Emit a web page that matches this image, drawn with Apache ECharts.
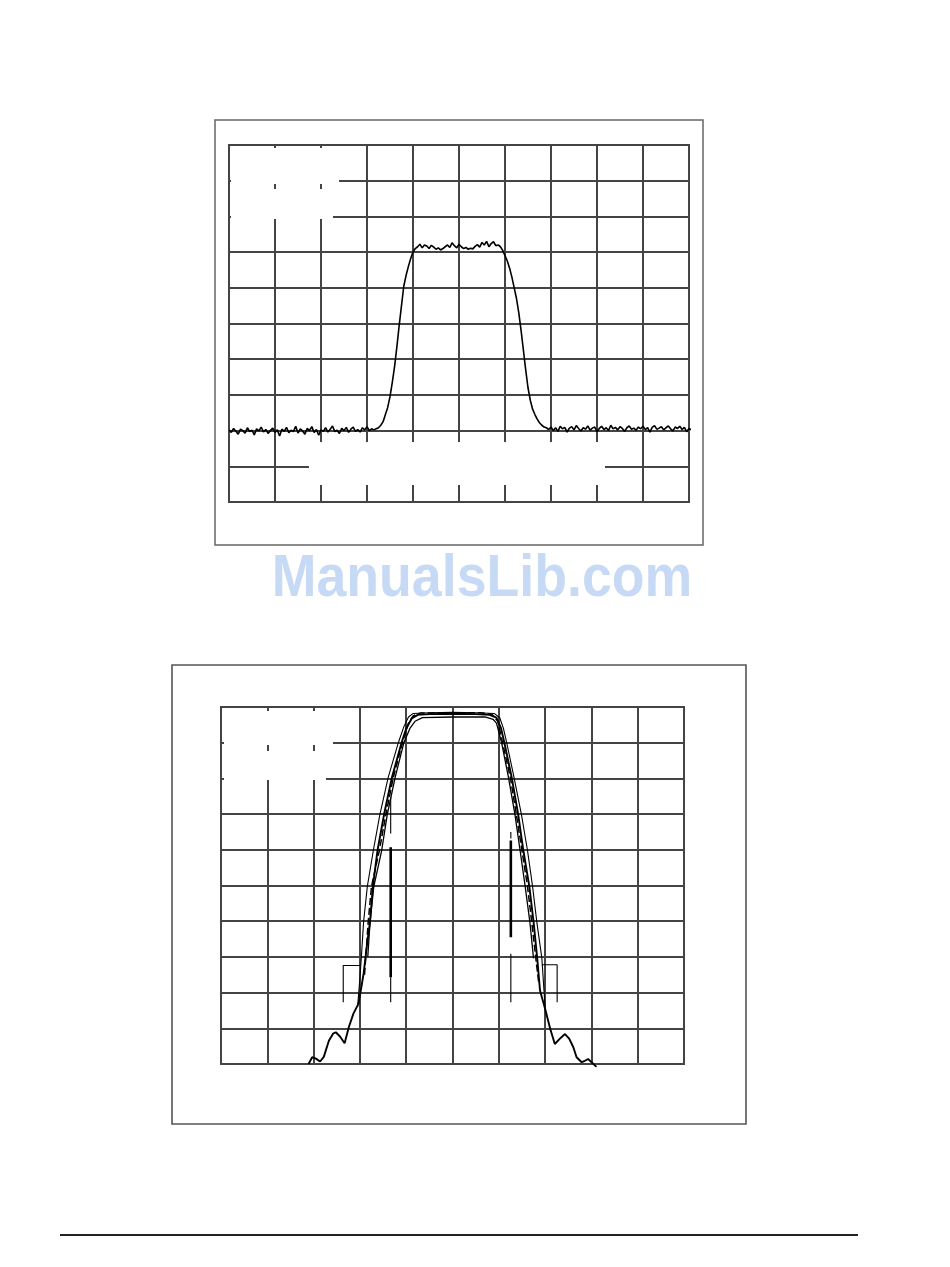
<!DOCTYPE html>
<html>
<head>
<meta charset="utf-8">
<script src="https://cdn.jsdelivr.net/npm/echarts@6/dist/echarts.min.js"></script>
<style>
html,body{margin:0;padding:0;background:#fff;}
#c{width:950px;height:1267px;}
</style>
</head>
<body>
<div id="c"></div>
<script>
// ---------- DATA (screen divisions: 10 x 10) ----------
// Top chart: single swept trace, sampled every 0.05 division from x = 0
const topStep = 0.05;
const topFloorLeft = [2.02,1.95,2.06,1.98,1.9,2.04,2.0,1.93,2.08,1.97,
  2.01,1.88,2.05,1.99,2.1,1.96,2.03,1.92,2.0,2.07,
  1.95,2.02,1.85,2.04,1.98,2.09,1.94,2.01,1.97,2.12,
  1.93,2.05,1.99,1.9,2.06,2.0,2.11,1.95,2.03,1.87,
  2.02,1.98,2.08,1.96,2.04,2.13,1.97,2.01,1.92,2.06,
  2.0,2.09,1.95,2.04,2.1,1.98,2.03,1.96,2.08,2.02,
  2.11,2.0,2.05,2.02];
const topRise = [2.05,2.08,2.15,2.25,2.45,2.65,2.95,3.35,3.8,4.35,4.95,5.5,6.05,6.35,6.6,6.82,7.0,7.1,7.15];
const topPlateau = [7.22,7.12,7.2,7.17,7.1,7.19,7.14,7.08,7.12,7.06,
  7.1,7.15,7.2,7.13,7.26,7.18,7.12,7.22,7.15,7.1,
  7.13,7.08,7.11,7.09,7.16,7.21,7.14,7.27,7.2,7.3,
  7.15,7.24,7.29,7.18,7.2];
const topFall = [7.15,7.05,6.9,6.75,6.55,6.3,6.0,5.7,5.3,4.8,4.25,3.7,3.2,2.85,2.6,2.45,2.32,2.22,2.15,2.1,2.08];
const topFloorRight = [2.03,2.1,2.0,2.08,1.98,2.12,2.05,2.09,1.96,2.07,
  2.11,2.02,2.14,2.06,1.99,2.08,2.04,2.13,2.01,2.07,
  2.1,1.97,2.06,2.12,2.03,2.08,2.0,2.15,2.05,2.09,
  2.02,2.11,2.06,1.98,2.08,2.13,2.04,2.07,2.01,2.1,
  2.05,2.12,2.03,2.08,1.96,2.09,2.14,2.04,2.07,2.11,
  2.02,2.08,2.13,2.05,1.99,2.1,2.06,2.12,2.03,2.09,
  1.97,2.06,2.02];

// Bottom chart: overlaid filter responses [x div, y div]
const sidelobeTrace = [[1.89,0.0],[1.97,0.19],[2.05,0.15],[2.14,0.07],[2.22,0.2],[2.33,0.65],[2.42,0.85],[2.48,0.89],
  [2.57,0.77],[2.67,0.58],[2.76,1.03],[2.86,1.41],[2.97,1.69],[3.02,2.06],[3.08,2.53],[3.15,3.3],[3.22,4.0],
  [3.28,4.97],[3.38,5.98],[3.52,6.98],[3.69,8.02],[3.9,9.0],[4.0,9.4],[4.12,9.68],[4.25,9.78],[4.5,9.8],
  [5.0,9.81],[5.5,9.8],[5.8,9.78],[5.95,9.7],[6.05,9.4],[6.12,9.0],[6.28,8.02],[6.42,6.98],[6.53,5.98],
  [6.66,4.97],[6.75,3.99],[6.83,2.96],[6.89,2.06],[7.0,1.55],[7.11,0.99],[7.21,0.56],[7.32,0.71],[7.43,0.84],
  [7.52,0.71],[7.61,0.47],[7.68,0.19],[7.79,0.05],[7.86,0.09],[7.93,0.14],[8.01,0.04],[8.11,-0.08]];
const outerTrace = [[2.95,1.6],[3.0,2.4],[3.03,2.96],[3.08,3.99],[3.16,4.97],[3.29,5.98],[3.43,6.98],[3.61,8.02],
  [3.83,9.0],[3.95,9.45],[4.05,9.72],[4.15,9.82],[4.5,9.84],[5.0,9.85],[5.5,9.84],[5.9,9.82],[6.02,9.7],
  [6.1,9.4],[6.17,9.0],[6.33,8.02],[6.49,6.98],[6.62,5.98],[6.73,4.97],[6.82,3.99],[6.93,2.96],[6.98,1.98],[7.0,1.6]];
const dashedTrace = [[3.1,2.5],[3.18,3.99],[3.25,4.97],[3.42,5.98],[3.56,6.98],[3.72,8.02],[3.92,9.0],[4.05,9.55],
  [4.15,9.75],[4.3,9.83],[5.0,9.84],[5.6,9.84],[5.85,9.8],[5.98,9.6],[6.08,9.0],[6.25,8.02],[6.38,6.98],
  [6.5,5.98],[6.62,4.97],[6.71,3.99],[6.8,2.96],[6.86,2.3]];
const innerTrace = [[3.17,3.0],[3.22,3.99],[3.3,4.97],[3.47,5.98],[3.59,6.98],[3.76,8.02],[3.95,9.0],[4.08,9.4],
  [4.19,9.6],[4.35,9.7],[5.0,9.72],[5.7,9.72],[5.88,9.65],[5.95,9.55],[6.06,9.0],[6.21,8.02],[6.35,6.98],
  [6.46,5.98],[6.57,4.97],[6.67,3.99],[6.75,2.96]];
// markers and brackets (null separates segments)
const markersThick = [[3.665,6.07],[3.665,2.43],null,[6.26,6.26],[6.26,3.55]];
const markersThin = [[3.665,7.47],[3.665,6.46],null,[3.665,2.43],[3.665,1.73],null,[6.26,6.5],[6.26,6.32],null,[6.26,3.09],[6.26,1.73],
  null,[2.64,1.73],[2.64,2.76],[3.0,2.76],null,[6.93,2.78],[7.26,2.78],[7.26,1.73]];

// ---------- BUILD ----------
const topLevels = topFloorLeft.concat(topRise, topPlateau, topFall, topFloorRight);
const topTrace = topLevels.map((v, i) => [+(i * topStep).toFixed(2), v]);

const gridLine = {show:true, lineStyle:{color:'#444', width:2}};
function axis(gi) {
  return {type:'value', gridIndex:gi, min:0, max:10, interval:1,
    axisLabel:{show:false}, axisTick:{show:false}, axisLine:{show:false},
    splitLine:gridLine};
}
function lineSeries(data, gi, width, extra) {
  return Object.assign({type:'line', xAxisIndex:gi, yAxisIndex:gi, data:data,
    showSymbol:false, symbol:'none', clip:false, connectNulls:false, animation:false, z:5,
    lineStyle:{color:'#000', width:width}}, extra || {});
}

const chart = echarts.init(document.getElementById('c'), null, {renderer:'canvas'});
chart.setOption({
  backgroundColor:'#fff',
  animation:false,
  grid:[
    {left:229, top:145, width:460, height:357, show:true, borderColor:'#444', borderWidth:2},
    {left:221, top:707, width:463, height:357, show:true, borderColor:'#444', borderWidth:2}
  ],
  xAxis:[axis(0), axis(1)],
  yAxis:[axis(0), axis(1)],
  series:[
    lineSeries(topTrace, 0, 1.6),
    lineSeries(sidelobeTrace, 1, 1.9),
    lineSeries(outerTrace, 1, 1.1),
    lineSeries(dashedTrace, 1, 1.5, {lineStyle:{color:'#000', width:1.5, type:[7,3]}}),
    lineSeries(innerTrace, 1, 1.3),
    lineSeries(markersThick, 1, 2.6),
    lineSeries(markersThin, 1, 1.1)
  ],
  graphic:[
    {type:'rect', z:1, shape:{x:215, y:120, width:488, height:425}, style:{fill:'none', stroke:'#666', lineWidth:1.5}},
    {type:'rect', z:1, shape:{x:172, y:665, width:574, height:459}, style:{fill:'none', stroke:'#555', lineWidth:1.6}},
    // erased label areas
    {type:'rect', z:3, shape:{x:231, y:148, width:108, height:36}, style:{fill:'#fff'}},
    {type:'rect', z:3, shape:{x:231, y:189, width:102, height:30}, style:{fill:'#fff'}},
    {type:'rect', z:3, shape:{x:309, y:442, width:296, height:43}, style:{fill:'#fff'}},
    {type:'rect', z:3, shape:{x:224, y:711, width:109, height:34}, style:{fill:'#fff'}},
    {type:'rect', z:3, shape:{x:224, y:751, width:102, height:29}, style:{fill:'#fff'}},
    {type:'text', z:4, x:482, y:580, scaleX:0.91,
      style:{text:'ManualsLib.com', font:'bold 59px "Liberation Sans", Arial, sans-serif', fill:'#c7daf5', align:'center', verticalAlign:'middle'}},
    {type:'line', z:1, shape:{x1:60, y1:1235, x2:858, y2:1235}, style:{stroke:'#222', lineWidth:2}}
  ]
});
</script>
</body>
</html>
